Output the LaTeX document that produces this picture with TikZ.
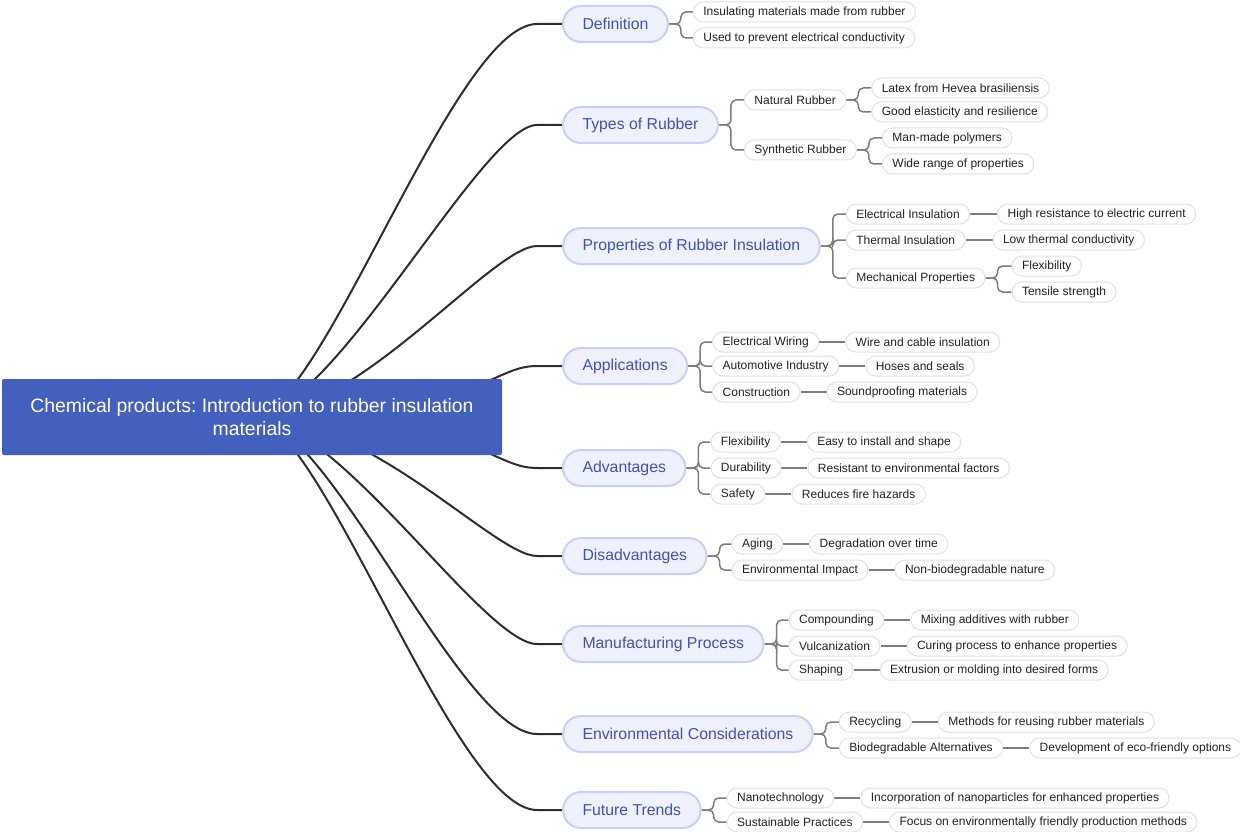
\documentclass[tikz,border=0pt]{standalone}
\usepackage{fontspec}
\setmainfont{Liberation Sans}
\usetikzlibrary{calc,backgrounds}
\frenchspacing
\definecolor{rootblue}{RGB}{67,96,190}
\definecolor{brfill}{RGB}{239,241,255}
\definecolor{brborder}{RGB}{200,207,250}
\definecolor{brtext}{RGB}{64,82,184}
\definecolor{leafborder}{RGB}{225,225,225}
\definecolor{leaftext}{RGB}{34,34,34}
\definecolor{mainc}{RGB}{45,45,45}
\definecolor{subc}{RGB}{125,125,125}
\tikzset{
  rootbox/.style={fill=rootblue, text=white, rounded corners=2pt, minimum width=500pt, minimum height=76pt, align=center, inner sep=0pt, font=\fontsize{19.4}{23}\selectfont},
  branchbox/.style={fill=brfill, draw=brborder, line width=2pt, rounded corners=18pt, minimum height=36pt, inner xsep=19.5pt, inner ysep=0pt, text=brtext, anchor=west, font=\fontsize{15.8}{19}\selectfont},
  leafbox/.style={fill=white, draw=leafborder, line width=1pt, rounded corners=10pt, minimum height=20pt, inner xsep=10pt, inner ysep=2pt, text=leaftext, anchor=west, font=\fontsize{12}{14}\selectfont},
  mainline/.style={draw=mainc, line width=2pt},
  subline/.style={draw=subc, line width=1.5pt, rounded corners=5pt},
}
\newcommand{\mmleaf}[5]{\node[leafbox] (#1) at ($(#2.east|-0,#3)+(#4,0)$) {#5};}
\begin{document}
\begin{tikzpicture}[x=1pt,y=-1pt]
\useasboundingbox (0,0) rectangle (1240,832);
\node[rootbox] (root) at (252,417) {Chemical products: Introduction to rubber insulation\\materials};
\node[branchbox] (b1) at (562,24) {Definition};
\node[branchbox] (b2) at (562,125) {Types of Rubber};
\node[branchbox] (b3) at (562,246) {Properties of Rubber Insulation};
\node[branchbox] (b4) at (562,366) {Applications};
\node[branchbox] (b5) at (562,468) {Advantages};
\node[branchbox] (b6) at (562,556) {Disadvantages};
\node[branchbox] (b7) at (562,644) {Manufacturing Process};
\node[branchbox] (b8) at (562,734) {Environmental Considerations};
\node[branchbox] (b9) at (562,810) {Future Trends};
% level 2 and 3
\mmleaf{b1a}{b1}{12}{24}{Insulating materials made from rubber}
\mmleaf{b1b}{b1}{38}{24}{Used to prevent electrical conductivity}
\mmleaf{b2a}{b2}{100}{25}{Natural Rubber}
\mmleaf{b2b}{b2}{150}{25}{Synthetic Rubber}
\mmleaf{b2a1}{b2a}{88}{25}{Latex from Hevea brasiliensis}
\mmleaf{b2a2}{b2a}{112}{25}{Good elasticity and resilience}
\mmleaf{b2b1}{b2b}{138}{25}{Man-made polymers}
\mmleaf{b2b2}{b2b}{164}{25}{Wide range of properties}
\mmleaf{b3a}{b3}{214}{25}{Electrical Insulation}
\mmleaf{b3b}{b3}{240}{25}{Thermal Insulation}
\mmleaf{b3c}{b3}{278}{25}{Mechanical Properties}
\mmleaf{b3a1}{b3a}{214}{27}{High resistance to electric current}
\mmleaf{b3b1}{b3b}{240}{27}{Low thermal conductivity}
\mmleaf{b3c1}{b3c}{266}{26}{Flexibility}
\mmleaf{b3c2}{b3c}{292}{26}{Tensile strength}
\mmleaf{b4a}{b4}{342}{24}{Electrical Wiring}
\mmleaf{b4b}{b4}{366}{24}{Automotive Industry}
\mmleaf{b4c}{b4}{392}{24}{Construction}
\mmleaf{b4a1}{b4a}{342}{26}{Wire and cable insulation}
\mmleaf{b4b1}{b4b}{366}{26}{Hoses and seals}
\mmleaf{b4c1}{b4c}{392}{26}{Soundproofing materials}
\mmleaf{b5a}{b5}{442}{24}{Flexibility}
\mmleaf{b5b}{b5}{468}{24}{Durability}
\mmleaf{b5c}{b5}{494}{24}{Safety}
\mmleaf{b5a1}{b5a}{442}{26}{Easy to install and shape}
\mmleaf{b5b1}{b5b}{468}{26}{Resistant to environmental factors}
\mmleaf{b5c1}{b5c}{494}{26}{Reduces fire hazards}
\mmleaf{b6a}{b6}{544}{24}{Aging}
\mmleaf{b6b}{b6}{570}{24}{Environmental Impact}
\mmleaf{b6a1}{b6a}{544}{26}{Degradation over time}
\mmleaf{b6b1}{b6b}{570}{26}{Non-biodegradable nature}
\mmleaf{b7a}{b7}{620}{24}{Compounding}
\mmleaf{b7b}{b7}{646}{24}{Vulcanization}
\mmleaf{b7c}{b7}{670}{24}{Shaping}
\mmleaf{b7a1}{b7a}{620}{26}{Mixing additives with rubber}
\mmleaf{b7b1}{b7b}{646}{26}{Curing process to enhance properties}
\mmleaf{b7c1}{b7c}{670}{26}{Extrusion or molding into desired forms}
\mmleaf{b8a}{b8}{722}{25}{Recycling}
\mmleaf{b8b}{b8}{748}{25}{Biodegradable Alternatives}
\mmleaf{b8a1}{b8a}{722}{26}{Methods for reusing rubber materials}
\mmleaf{b8b1}{b8b}{748}{26}{Development of eco-friendly options}
\mmleaf{b9a}{b9}{798}{25}{Nanotechnology}
\mmleaf{b9b}{b9}{822}{25}{Sustainable Practices}
\mmleaf{b9a1}{b9a}{798}{26}{Incorporation of nanoparticles for enhanced properties}
\mmleaf{b9b1}{b9b}{822}{26}{Focus on environmentally friendly production methods}
\begin{scope}[on background layer]
% main curves
\draw[mainline] (root.center) .. controls +(69,0) and +(-83,0) .. ([xshift=-25pt]b1.west) -- (b1.west);
\draw[mainline] (root.center) .. controls +(80,0) and +(-55,0) .. ([xshift=-25pt]b2.west) -- (b2.west);
\draw[mainline] (root.center) .. controls +(105,0) and +(-45,0) .. ([xshift=-25pt]b3.west) -- (b3.west);
\draw[mainline] (root.center) .. controls +(228,0) and +(-48,0) .. ([xshift=-25pt]b4.west) -- (b4.west);
\draw[mainline] (root.center) .. controls +(228,0) and +(-48,0) .. ([xshift=-25pt]b5.west) -- (b5.west);
\draw[mainline] (root.center) .. controls +(119,0) and +(-42,0) .. ([xshift=-25pt]b6.west) -- (b6.west);
\draw[mainline] (root.center) .. controls +(85,0) and +(-53,0) .. ([xshift=-25pt]b7.west) -- (b7.west);
\draw[mainline] (root.center) .. controls +(76,0) and +(-76,0) .. ([xshift=-25pt]b8.west) -- (b8.west);
\draw[mainline] (root.center) .. controls +(69,0) and +(-83,0) .. ([xshift=-25pt]b9.west) -- (b9.west);
% brackets
\foreach \p/\c in {b1/b1a,b1/b1b,b2/b2a,b2/b2b,b2a/b2a1,b2a/b2a2,b2b/b2b1,b2b/b2b2,b3/b3a,b3/b3b,b3/b3c,b3c/b3c1,b3c/b3c2,b4/b4a,b4/b4b,b4/b4c,b5/b5a,b5/b5b,b5/b5c,b6/b6a,b6/b6b,b7/b7a,b7/b7b,b7/b7c,b8/b8a,b8/b8b,b9/b9a,b9/b9b}
  {\draw[subline] (\p.east) -- ++(12,0) |- (\c.west);}
% single lines
\foreach \p/\c in {b3a/b3a1,b3b/b3b1,b4a/b4a1,b4b/b4b1,b4c/b4c1,b5a/b5a1,b5b/b5b1,b5c/b5c1,b6a/b6a1,b6b/b6b1,b7a/b7a1,b7b/b7b1,b7c/b7c1,b8a/b8a1,b8b/b8b1,b9a/b9a1,b9b/b9b1}
  {\draw[subline] (\p.east) -- (\c.west);}
\end{scope}
\end{tikzpicture}
\end{document}
